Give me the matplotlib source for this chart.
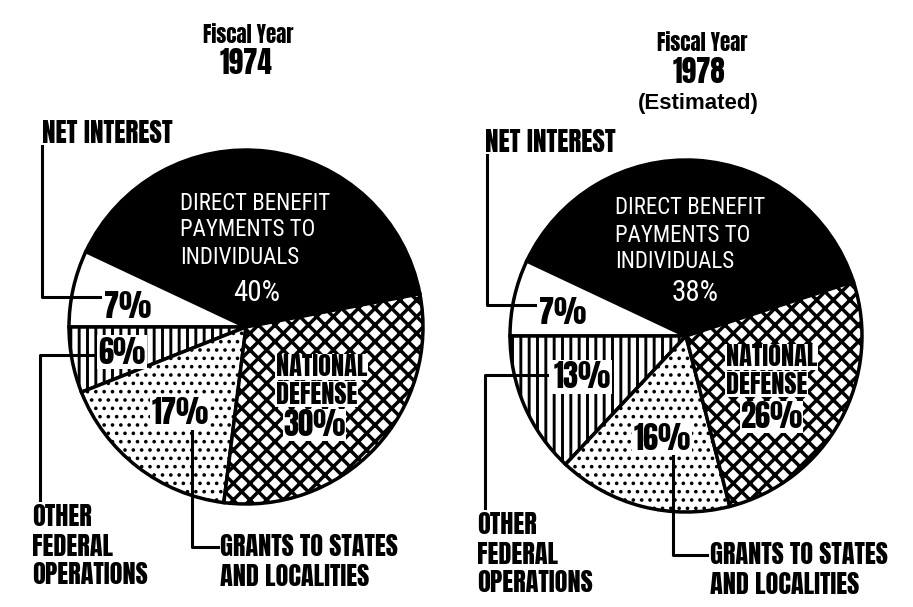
import matplotlib
matplotlib.use("Agg")
import matplotlib.pyplot as plt

W, H = 913, 607

categories = ["DIRECT BENEFIT\nPAYMENTS TO\nINDIVIDUALS", "NET INTEREST",
              "OTHER\nFEDERAL\nOPERATIONS", "GRANTS TO STATES\nAND LOCALITIES",
              "NATIONAL\nDEFENSE"]
years = ["1974", "1978"]
year_notes = ["", "(Estimated)"]
shares_1974 = [40, 7, 6, 17, 30]
shares_1978 = [38, 7, 13, 16, 26]
fills = ["black", "white", "white", "white", "white"]
hatches = [None, None, "||", "..", "xx"]
hatch_widths = [1.0, 1.0, 2.1, 1.4, 2.5]

HEAVY = ["Anton", "Oswald", "DejaVu Sans"]
LIGHT = ["Roboto Condensed", "Archivo Narrow", "Asap Condensed", "DejaVu Sans"]
WIDE = ["Liberation Sans", "DejaVu Sans"]

plt.rcParams["hatch.linewidth"] = 2.2
plt.rcParams["hatch.color"] = "black"

# layout per pie, in pixel coords (y down)
layouts = [
    dict(center=(246, 327), r=177,
         fy=(248, 35), year=(246, 63), note=None,
         net=(42, 133), net_line=[(42, 146), (42, 297), (100, 297)], net_pct=(128, 306),
         oth_line=[(97, 355), (40, 355), (40, 500)], oth=(32, 517), oth_pct=(122, 352),
         gr_line=[(192, 430), (192, 547), (218, 547)], gr=(220, 547), gr_pct=(180, 413),
         nd=(276, 367), nd_pct=(283, 425),
         db=(180, 203), db_pct=(233, 293)),
    dict(center=(686, 336), r=176,
         fy=(702, 43), year=(699, 72), note=(698, 103),
         net=(485, 142), net_line=[(487, 155), (487, 305), (535, 305)], net_pct=(563, 312),
         oth_line=[(547, 375), (485, 375), (485, 508)], oth=(477, 525), oth_pct=(582, 377),
         gr_line=[(673, 452), (673, 555), (707, 555)], gr=(710, 555), gr_pct=(662, 438),
         nd=(726, 357), nd_pct=(740, 417),
         db=(615, 208), db_pct=(672, 293)),
]

fig = plt.figure(figsize=(W / 100, H / 100), dpi=100)
ax = fig.add_axes([0, 0, 1, 1])


def P(x, y):
    return x, H - y


def lines_text(x, y, text, step, **kw):
    for i, s in enumerate(text.split("\n")):
        ax.text(*P(x, y + i * step), s, va="center", **kw)


white_box = dict(facecolor="white", edgecolor="none", pad=1.0)
tight_box = dict(facecolor="white", edgecolor="none", pad=0.3)

for shares, year, note, lay in zip([shares_1974, shares_1978], years, year_notes, layouts):
    start = 180 - (shares[0] + shares[1]) * 3.6
    wedges, _ = ax.pie(shares, colors=fills, hatch=hatches, startangle=start,
                       center=P(*lay["center"]), radius=lay["r"],
                       wedgeprops=dict(edgecolor="black", linewidth=2.5))
    for w, hw in zip(wedges, hatch_widths):
        if hasattr(w, "set_hatch_linewidth"):
            w.set_hatch_linewidth(hw)

    ax.text(*P(*lay["fy"]), "Fiscal Year", ha="center", va="center",
            family=HEAVY, fontsize=15)
    ax.text(*P(*lay["year"]), year, ha="center", va="center",
            family=HEAVY, fontsize=21)
    if note:
        ax.text(*P(*lay["note"]), note, ha="center", va="center",
                family=WIDE, weight="bold", fontsize=16)

    bold = dict(family=HEAVY, color="black")
    # net interest
    ax.text(*P(*lay["net"]), categories[1], ha="left", va="center", fontsize=19.5, **bold)
    ax.plot(*zip(*[P(*p) for p in lay["net_line"]]), color="black", lw=2.2)
    ax.text(*P(*lay["net_pct"]), f"{shares[1]}%", ha="center", va="center",
            fontsize=22, bbox=white_box, **bold)
    # other federal
    ax.plot(*zip(*[P(*p) for p in lay["oth_line"]]), color="black", lw=2.2)
    lines_text(*lay["oth"], categories[2], 29, ha="left", fontsize=19, **bold)
    ax.text(*P(*lay["oth_pct"]), f"{shares[2]}%", ha="center", va="center",
            fontsize=22, bbox=white_box, **bold)
    # grants
    ax.plot(*zip(*[P(*p) for p in lay["gr_line"]]), color="black", lw=2.2)
    lines_text(*lay["gr"], categories[3], 29, ha="left", fontsize=19, **bold)
    ax.text(*P(*lay["gr_pct"]), f"{shares[3]}%", ha="center", va="center",
            fontsize=22, bbox=white_box, **bold)
    # national defense
    lines_text(*lay["nd"], categories[4], 27, ha="left", fontsize=19,
               bbox=tight_box, **bold)
    ax.text(*P(*lay["nd_pct"]), f"{shares[4]}%", ha="left", va="center",
            fontsize=22, bbox=tight_box, **bold)
    # direct benefit (white on black)
    lines_text(*lay["db"], categories[0], 27, ha="left", family=LIGHT,
               color="white", fontsize=16.5)
    ax.text(*P(*lay["db_pct"]), f"{shares[0]}%", ha="left", va="center",
            family=LIGHT, color="white", fontsize=21)

ax.set_xlim(0, W)
ax.set_ylim(0, H)
ax.set_aspect("auto")
ax.axis("off")

fig.savefig("out.png", dpi=100, facecolor="white")
